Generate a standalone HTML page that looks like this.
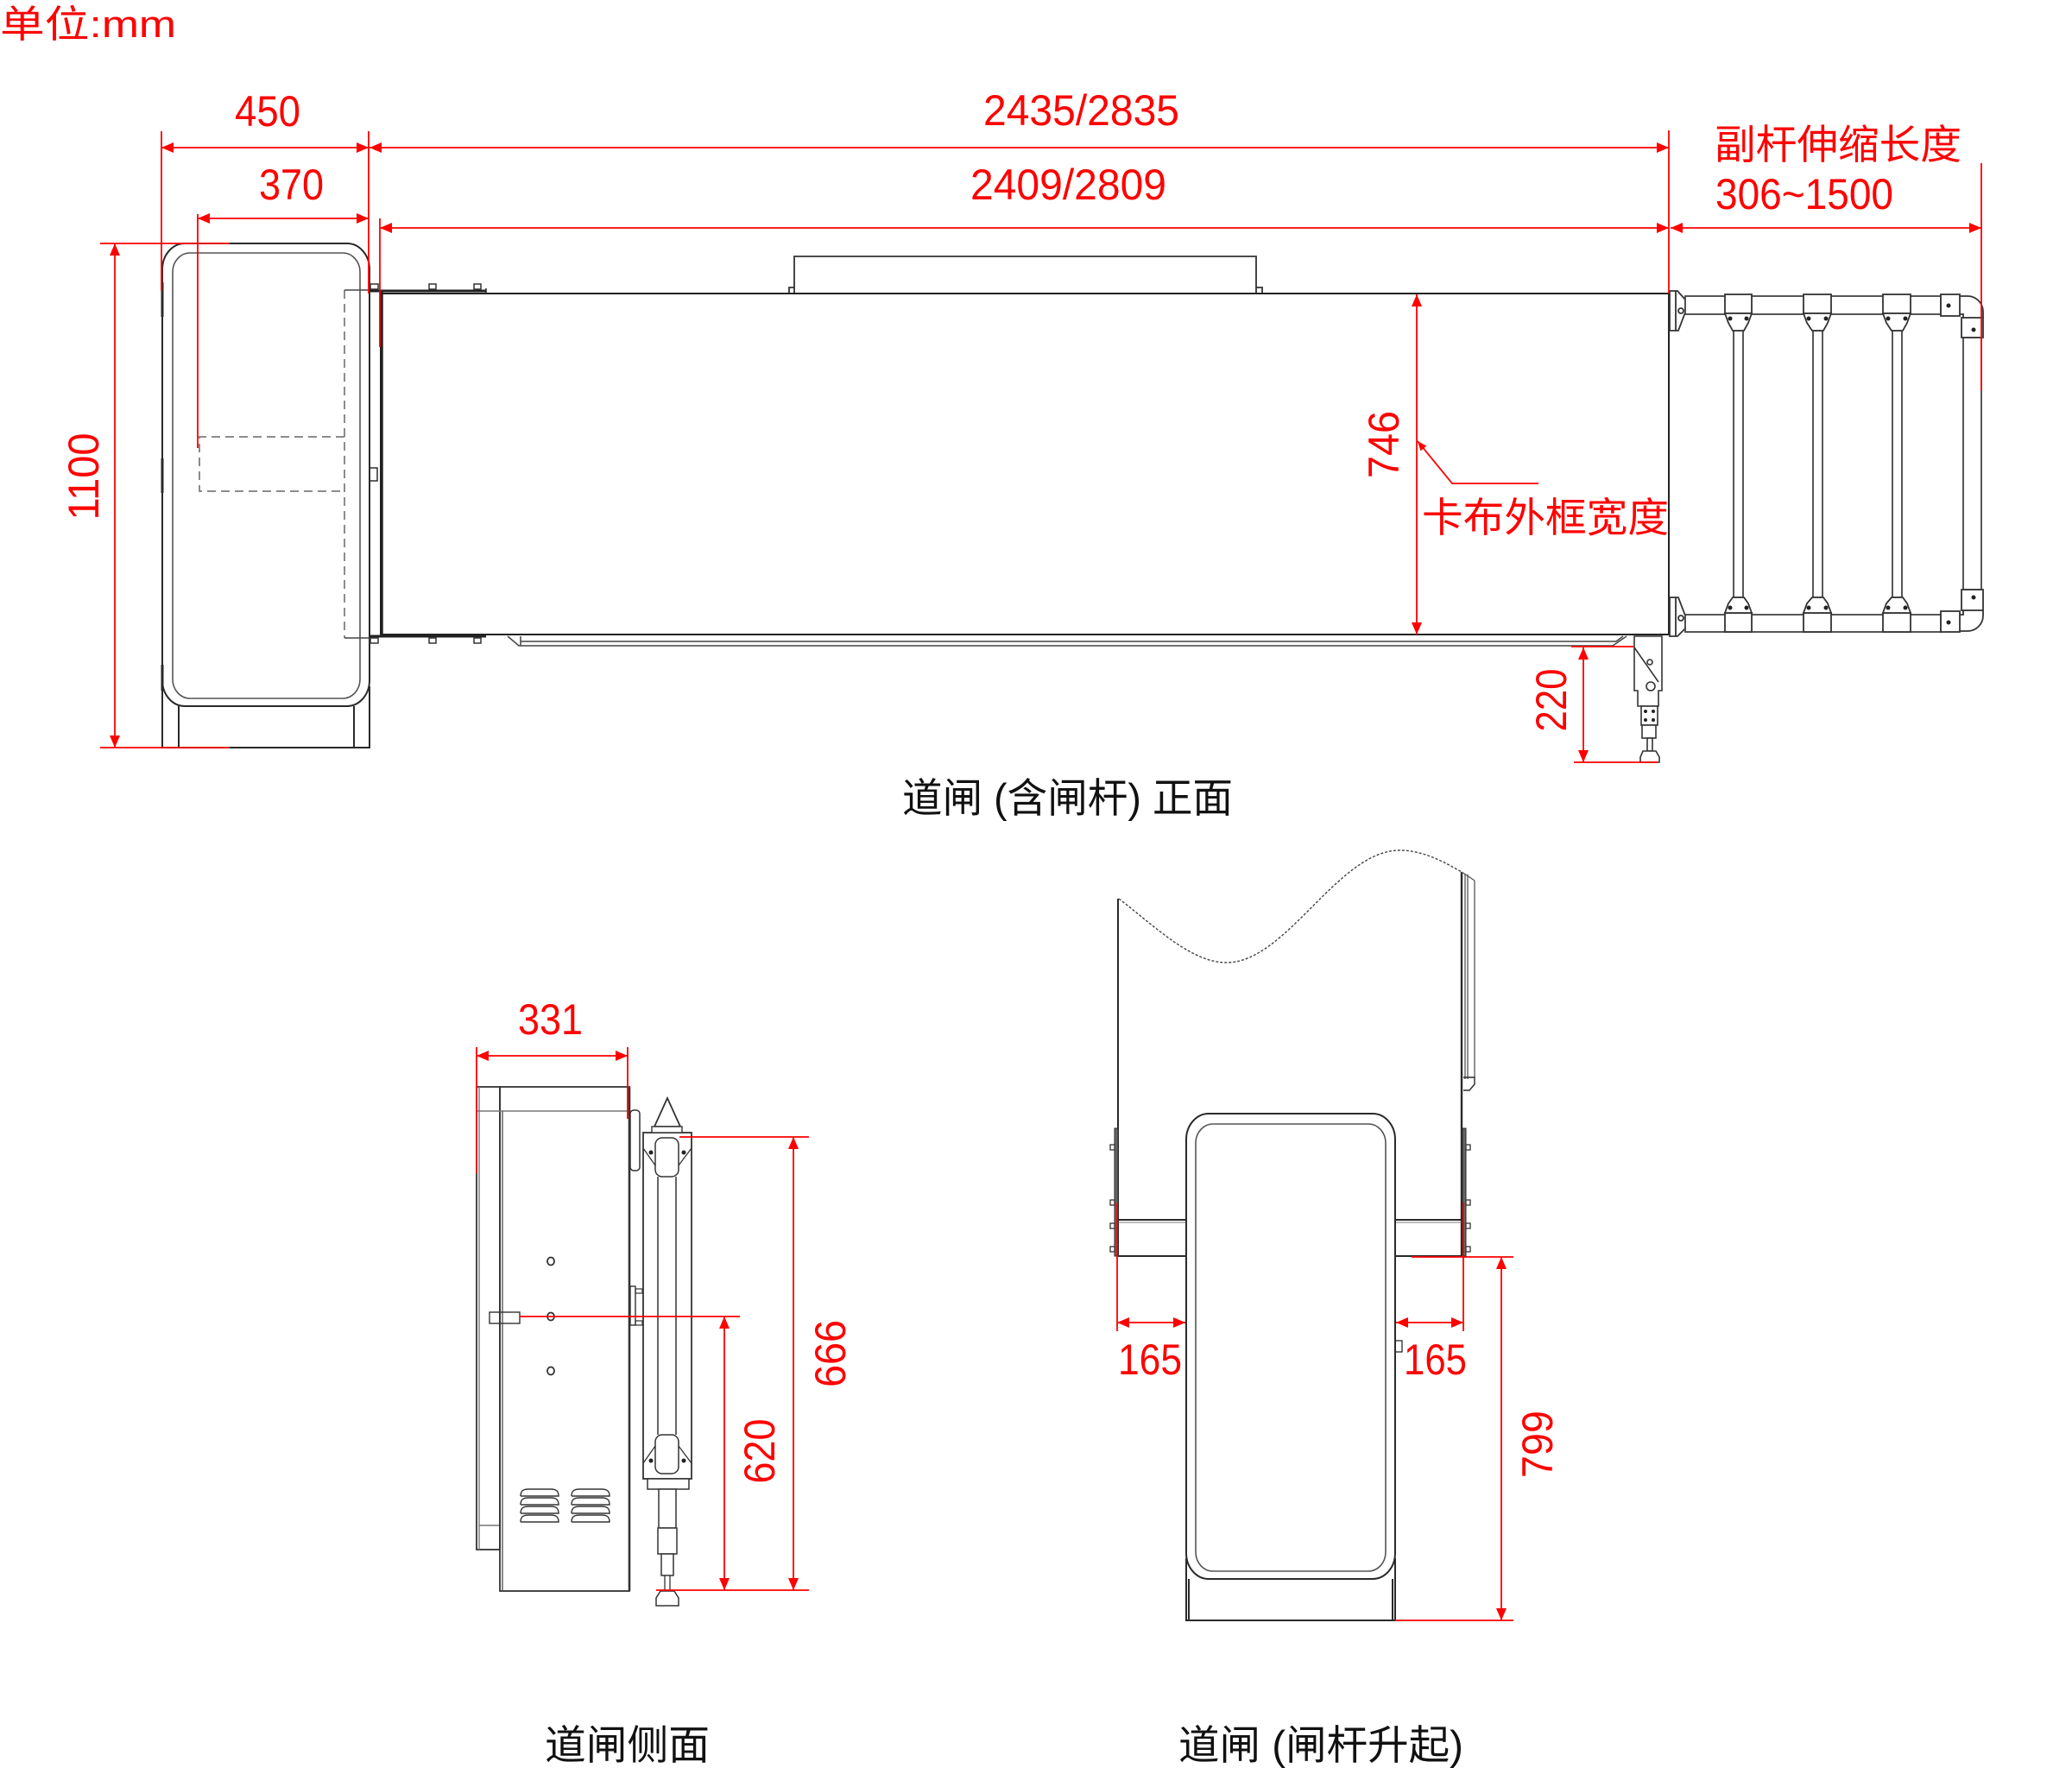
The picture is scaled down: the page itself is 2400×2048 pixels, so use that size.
<!DOCTYPE html>
<html><head><meta charset="utf-8">
<style>
html,body{margin:0;padding:0;background:#fff;}
svg{display:block;}
text{font-family:"Liberation Sans","Noto Sans CJK SC",sans-serif;}
</style></head><body>
<svg width="2400" height="2048" viewBox="0 0 2400 2048" xmlns="http://www.w3.org/2000/svg">
<defs>
<marker id="ar" markerWidth="14" markerHeight="12" refX="14" refY="6" orient="auto-start-reverse" markerUnits="userSpaceOnUse"><path d="M0,0 L14,6 L0,12 z" fill="#f00"/></marker>
<marker id="ar2" markerWidth="11" markerHeight="9" refX="11" refY="4.5" orient="auto-start-reverse" markerUnits="userSpaceOnUse"><path d="M0,0 L11,4.5 L0,9 z" fill="#f00"/></marker>
</defs>
<rect width="2400" height="2048" fill="#fff"/>

<!-- ============ TOP FRONT VIEW ============ -->
<g fill="none" stroke="#2a2a2a" stroke-width="2">
  <!-- left cabinet -->
  <rect x="188" y="282" width="240" height="536" rx="26" ry="30"/>
  <rect x="200" y="293" width="217" height="516" rx="20" ry="22" stroke="#555" stroke-width="1.6"/>
  <path d="M188,795 V866 H428 V795 M207,818 V866 M410,818 V866"/>
  <path d="M188,327 V367 M188,531 V571 M188,770 V800" stroke-width="3"/>
  <rect x="428" y="542" width="9" height="15" stroke-width="1.5"/>
</g>
<g fill="none" stroke="#666" stroke-width="1.5" stroke-dasharray="10 6">
  <path d="M399,336 V739"/>
  <path d="M399,506 H231 V569 H399"/>
</g>
<g fill="none" stroke="#444" stroke-width="1.5">
  <path d="M399,336 H428 M399,739 H428"/>
</g>

<!-- beam -->
<g fill="none" stroke="#222" stroke-width="2">
  <rect x="441" y="340" width="1492" height="395"/>
  <path d="M442,337 V738" stroke-width="3.5"/>
  <path d="M427,337 H563 M427,737 H563" stroke-width="3"/>
  <path d="M427,337 V340 M563,334 V340" stroke-width="1.5"/>
</g>
<g fill="#fff" stroke="#333" stroke-width="1.5">
  <rect x="429" y="329" width="9" height="6"/><rect x="497" y="329" width="8" height="6"/><rect x="549" y="329" width="8" height="6"/>
  <rect x="429" y="739" width="9" height="6"/><rect x="497" y="739" width="8" height="6"/><rect x="549" y="739" width="8" height="6"/>
</g>
<!-- top box -->
<g fill="none" stroke="#333" stroke-width="1.8">
  <path d="M920,339 V297 H1455 V339"/>
  <path d="M914,339 V333 H920 M1455,333 H1462 V339"/>
</g>
<!-- bottom rail -->
<g fill="none" stroke="#444" stroke-width="1.5">
  <path d="M588,737 L601,748 H1868 M603,743 H1872 M603,737 V748"/>
  <path d="M1868,748 L1884,737 M1872,743 L1880,737"/>
</g>
<!-- end caps -->
<g fill="#fff" stroke="#333" stroke-width="1.8">
  <polygon points="1934,337 1943,337 1952,347 1952,362 1944,383 1934,383"/>
  <polygon points="1934,692 1944,692 1952,713 1952,728 1943,737 1934,737"/>
  <path d="M1941,337 V383 M1941,692 V737" fill="none"/>
  <circle cx="1947" cy="360" r="3"/><circle cx="1947" cy="716" r="3"/>
</g>
<!-- tubes -->
<g fill="#fff" stroke="#444" stroke-width="1.8">
  <rect x="1952" y="343" width="296" height="21"/>
  <rect x="1952" y="712" width="296" height="20"/>
  <rect x="2008" y="383" width="11" height="309"/>
  <rect x="2100" y="383" width="11" height="309"/>
  <rect x="2192" y="383" width="11" height="309"/>
  <rect x="2274" y="391" width="21" height="292"/>
</g>
<g fill="#fff" stroke="#333" stroke-width="1.8">
  <!-- top clamps -->
  <rect x="1998" y="341" width="31" height="22"/>
  <polygon points="1998,363 2029,363 2025,374 2020,383 2007,383 2002,374"/>
  <rect x="2089" y="341" width="32" height="22"/>
  <polygon points="2089,363 2121,363 2117,374 2112,383 2099,383 2093,374"/>
  <rect x="2181" y="341" width="32" height="22"/>
  <polygon points="2181,363 2213,363 2209,374 2204,383 2191,383 2185,374"/>
  <!-- bottom clamps -->
  <rect x="1998" y="710" width="31" height="22"/>
  <polygon points="1998,710 2029,710 2025,699 2020,692 2007,692 2002,699"/>
  <rect x="2089" y="710" width="32" height="22"/>
  <polygon points="2089,710 2121,710 2117,699 2112,692 2099,692 2093,699"/>
  <rect x="2181" y="710" width="32" height="22"/>
  <polygon points="2181,710 2213,710 2209,699 2204,692 2191,692 2185,699"/>
  <!-- elbows -->
  <path d="M2270,343 H2279 A18,18 0 0 1 2297,361 V368 M2270,364 H2274 V368" fill="none"/>
  <rect x="2248" y="341" width="22" height="25"/>
  <rect x="2272" y="368" width="25" height="23"/>
  <rect x="2272" y="683" width="25" height="24"/>
  <rect x="2248" y="708" width="22" height="24"/>
  <path d="M2297,707 V713 A18,18 0 0 1 2279,731 H2270 M2274,707 V712 H2270" fill="none"/>
</g>
<g fill="#222">
  <circle cx="2004" cy="369" r="2.5"/><circle cx="2023" cy="369" r="2.5"/>
  <circle cx="2095" cy="369" r="2.5"/><circle cx="2115" cy="369" r="2.5"/>
  <circle cx="2187" cy="369" r="2.5"/><circle cx="2207" cy="369" r="2.5"/>
  <circle cx="2004" cy="704" r="2.5"/><circle cx="2023" cy="704" r="2.5"/>
  <circle cx="2095" cy="704" r="2.5"/><circle cx="2115" cy="704" r="2.5"/>
  <circle cx="2187" cy="704" r="2.5"/><circle cx="2207" cy="704" r="2.5"/>
  <circle cx="2257" cy="354" r="2.5"/><circle cx="2286" cy="382" r="2.5"/>
  <circle cx="2286" cy="692" r="2.5"/><circle cx="2257" cy="721" r="2.5"/>
</g>
<!-- support leg -->
<g fill="#fff" stroke="#333" stroke-width="1.6">
  <path d="M1893,737 H1925 V800 H1921 V818 H1897 V800 H1893 Z"/>
  <path d="M1893,750 L1921,790" fill="none"/>
  <rect x="1901" y="818" width="19" height="22"/>
  <rect x="1902" y="840" width="16" height="15"/>
  <rect x="1908" y="855" width="6" height="15"/>
  <polygon points="1903,870 1918,870 1922,877 1922,883 1900,883 1900,877"/>
  <circle cx="1911" cy="767" r="3"/>
  <circle cx="1912" cy="795" r="5"/>
</g>
<g fill="#222"><circle cx="1906" cy="824" r="2"/><circle cx="1915" cy="824" r="2"/><circle cx="1906" cy="834" r="2"/><circle cx="1915" cy="834" r="2"/></g>

<!-- ============ RED DIMENSIONS (TOP) ============ -->
<g stroke="#f00" stroke-width="1.8" fill="none">
  <path d="M187,152 V337 M427,152 V340 M229,248 V519 M440,253 V402 M1933,151 V340 M2295,189 V452"/>
  <path d="M116,282 H266 M116,866 H266"/>
  <line x1="187" y1="171" x2="427" y2="171" marker-start="url(#ar)" marker-end="url(#ar)"/>
  <line x1="428" y1="171" x2="1933" y2="171" marker-start="url(#ar)" marker-end="url(#ar)"/>
  <line x1="229" y1="253" x2="427" y2="253" marker-start="url(#ar)" marker-end="url(#ar)"/>
  <line x1="440" y1="264" x2="1933" y2="264" marker-start="url(#ar)" marker-end="url(#ar)"/>
  <line x1="1935" y1="264" x2="2295" y2="264" marker-start="url(#ar)" marker-end="url(#ar)"/>
  <line x1="133" y1="282" x2="133" y2="866" marker-start="url(#ar)" marker-end="url(#ar)"/>
  <line x1="1641" y1="341" x2="1641" y2="735" marker-start="url(#ar)" marker-end="url(#ar)"/>
  <path d="M1642,511 L1682,560 H1782" marker-start="url(#ar2)"/>
  <path d="M1820,749 H1892 M1823,883 H1920"/>
  <line x1="1834" y1="750" x2="1834" y2="883" marker-start="url(#ar)" marker-end="url(#ar)"/>
</g>
<g fill="#f00" font-size="50">
  <text x="0" y="43" font-size="44" textLength="204" lengthAdjust="spacingAndGlyphs">单位:mm</text>
  <text x="272" y="146" textLength="76" lengthAdjust="spacingAndGlyphs">450</text>
  <text x="300" y="231" textLength="75" lengthAdjust="spacingAndGlyphs">370</text>
  <text x="1139" y="145" textLength="227" lengthAdjust="spacingAndGlyphs">2435/2835</text>
  <text x="1124" y="231" textLength="227" lengthAdjust="spacingAndGlyphs">2409/2809</text>
  <text x="1986" y="184" font-size="47" textLength="286" lengthAdjust="spacingAndGlyphs">副杆伸缩长度</text>
  <text x="1987" y="242" textLength="206" lengthAdjust="spacingAndGlyphs">306~1500</text>
  <text x="1647" y="616" font-size="47" textLength="286" lengthAdjust="spacingAndGlyphs">卡布外框宽度</text>
  <text transform="translate(114,552) rotate(-90)" text-anchor="middle" textLength="101" lengthAdjust="spacingAndGlyphs">1100</text>
  <text transform="translate(1620,515) rotate(-90)" text-anchor="middle" textLength="78" lengthAdjust="spacingAndGlyphs">746</text>
  <text transform="translate(1814,811) rotate(-90)" text-anchor="middle" textLength="73" lengthAdjust="spacingAndGlyphs">220</text>
</g>
<text x="1045" y="941" font-size="47" fill="#111" textLength="383" lengthAdjust="spacingAndGlyphs">道闸 (含闸杆) 正面</text>

<!-- ============ SIDE VIEW ============ -->
<g fill="none" stroke="#333" stroke-width="1.8">
  <rect x="552" y="1259" width="27" height="536"/>
  <path d="M555,1259 V1795 M555,1767 H579" stroke="#777" stroke-width="1.4"/>
  <rect x="579" y="1259" width="150" height="584"/>
  <path d="M582,1287 V1843" stroke="#555" stroke-width="1.4"/>
  <path d="M552,1287 H727" stroke="#777" stroke-width="1.4"/>
  <path d="M729,1259 V1843" stroke-width="2.6"/>
  <ellipse cx="638" cy="1461" rx="4" ry="4.5"/>
  <ellipse cx="638" cy="1525" rx="4" ry="4.5"/>
  <ellipse cx="638" cy="1588" rx="4" ry="4.5"/>
  <rect x="567" y="1520" width="35" height="13" stroke-width="1.4"/>
  <!-- vents -->
  <path d="M603,1733 C603,1727 606,1725 612,1725 H638 C644,1725 647,1727 647,1733 H603 M603,1743 C603,1737 606,1735 612,1735 H638 C644,1735 647,1737 647,1743 H603 M603,1753 C603,1747 606,1745 612,1745 H638 C644,1745 647,1747 647,1753 H603 M603,1763 C603,1757 606,1755 612,1755 H638 C644,1755 647,1757 647,1763 H603" stroke-width="1.4"/>
  <path d="M662,1733 C662,1727 665,1725 671,1725 H697 C703,1725 706,1727 706,1733 H662 M662,1743 C662,1737 665,1735 671,1735 H697 C703,1735 706,1737 706,1743 H662 M662,1753 C662,1747 665,1745 671,1745 H697 C703,1745 706,1747 706,1753 H662 M662,1763 C662,1757 665,1755 671,1755 H697 C703,1755 706,1757 706,1763 H662" stroke-width="1.4"/>
  <!-- right brackets -->
  <rect x="730" y="1286" width="11" height="70" rx="4" stroke-width="1.5"/>
  <rect x="730" y="1490" width="6" height="45" stroke-width="1.4"/>
  <rect x="736" y="1493" width="8" height="5" stroke-width="1.2"/>
  <rect x="736" y="1530" width="8" height="5" stroke-width="1.2"/>
  <!-- arm column -->
  <rect x="745" y="1312" width="56" height="401"/>
  <path d="M762,1363 V1662 M783,1363 V1662" stroke-width="1.5"/>
  <rect x="759" y="1318" width="27" height="45" rx="8" stroke-width="1.5"/>
  <rect x="759" y="1662" width="27" height="45" rx="8" stroke-width="1.5"/>
  <path d="M745,1330 L759,1350 M801,1330 L786,1350 M745,1695 L759,1675 M801,1695 L786,1675" stroke-width="1.3"/>
  <polygon points="773,1272 758,1305 788,1305" fill="#fff"/>
  <rect x="755" y="1305" width="35" height="7" fill="#fff" stroke-width="1.4"/>
  <rect x="750" y="1713" width="48" height="12" fill="#fff" stroke-width="1.5"/>
  <rect x="763" y="1725" width="20" height="45" fill="#fff" stroke-width="1.5"/>
  <rect x="762" y="1770" width="22" height="30" fill="#fff" stroke-width="1.5"/>
  <rect x="766" y="1800" width="14" height="25" fill="#fff" stroke-width="1.5"/>
  <rect x="770" y="1825" width="6" height="18" fill="#fff" stroke-width="1.3"/>
  <polygon points="765,1843 781,1843 786,1851 786,1860 760,1860 760,1851" fill="#fff" stroke-width="1.5"/>
</g>
<g fill="#222"><circle cx="754" cy="1335" r="2.5"/><circle cx="792" cy="1335" r="2.5"/><circle cx="754" cy="1692" r="2.5"/><circle cx="792" cy="1692" r="2.5"/></g>
<g stroke="#f00" stroke-width="1.8" fill="none">
  <path d="M552,1213 V1359 M727,1213 V1296"/>
  <line x1="552" y1="1223" x2="727" y2="1223" marker-start="url(#ar)" marker-end="url(#ar)"/>
  <path d="M602,1525 H857 M787,1317 H937 M760,1842 H937"/>
  <line x1="839" y1="1525" x2="839" y2="1842" marker-start="url(#ar)" marker-end="url(#ar)"/>
  <line x1="919" y1="1317" x2="919" y2="1842" marker-start="url(#ar)" marker-end="url(#ar)"/>
</g>
<g fill="#f00" font-size="50">
  <text x="600" y="1198" textLength="75" lengthAdjust="spacingAndGlyphs">331</text>
  <text transform="translate(897,1681) rotate(-90)" text-anchor="middle" textLength="75" lengthAdjust="spacingAndGlyphs">620</text>
  <text transform="translate(979,1568) rotate(-90)" text-anchor="middle" textLength="78" lengthAdjust="spacingAndGlyphs">666</text>
</g>
<text x="631" y="2038" font-size="47" fill="#111" textLength="191" lengthAdjust="spacingAndGlyphs">道闸侧面</text>

<!-- ============ RAISED VIEW ============ -->
<path d="M1296,1041 C1340,1075 1380,1115 1421,1115 C1490,1115 1550,985 1621,985 C1650,985 1675,1000 1693,1010" fill="none" stroke="#444" stroke-width="1.4" stroke-dasharray="3 2"/>
<g fill="none" stroke="#2a2a2a" stroke-width="2">
  <path d="M1295,1041 V1455"/>
  <path d="M1693,1010 V1455" stroke-width="2.4"/>
  <path d="M1697,1012 V1250 M1700,1013 V1250 M1708,1020 V1248 M1693,1010 L1708,1020" stroke="#555" stroke-width="1.3"/>
  <path d="M1695,1248 H1708 V1256 L1702,1263 H1695" stroke-width="1.4"/>
  <path d="M1295,1413 H1374 M1295,1455 H1374 M1616,1413 H1693 M1616,1455 H1693"/>
  <path d="M1295,1416 H1374 M1616,1416 H1693" stroke="#777" stroke-width="1"/>
  <rect x="1291" y="1307" width="4" height="148" fill="#666" stroke-width="1"/>
  <rect x="1694" y="1307" width="4" height="148" fill="#666" stroke-width="1"/>
  <rect x="1374" y="1290" width="242" height="539" rx="26" ry="30"/>
  <rect x="1385" y="1302" width="220" height="518" rx="20" ry="22" stroke="#555" stroke-width="1.6"/>
  <path d="M1374,1805 V1877 H1616 V1805 M1377,1829 V1877 M1613,1829 V1877"/>
  <rect x="1616" y="1553" width="8" height="13" stroke-width="1.3"/>
</g>
<g fill="#fff" stroke="#333" stroke-width="1.3">
  <rect x="1286" y="1326" width="5" height="6"/><rect x="1286" y="1390" width="5" height="6"/><rect x="1286" y="1417" width="5" height="6"/><rect x="1286" y="1444" width="5" height="6"/>
  <rect x="1698" y="1326" width="5" height="6"/><rect x="1698" y="1390" width="5" height="6"/><rect x="1698" y="1417" width="5" height="6"/><rect x="1698" y="1444" width="5" height="6"/>
</g>
<g stroke="#f00" stroke-width="1.8" fill="none">
  <path d="M1294,1393 V1542 M1695,1393 V1542"/>
  <line x1="1294" y1="1532" x2="1373" y2="1532" marker-start="url(#ar)" marker-end="url(#ar)"/>
  <line x1="1617" y1="1532" x2="1695" y2="1532" marker-start="url(#ar)" marker-end="url(#ar)"/>
  <path d="M1635,1456 H1753 M1616,1877 H1753"/>
  <line x1="1739" y1="1456" x2="1739" y2="1877" marker-start="url(#ar)" marker-end="url(#ar)"/>
</g>
<g fill="#f00" font-size="50">
  <text x="1295" y="1592" textLength="74" lengthAdjust="spacingAndGlyphs">165</text>
  <text x="1626" y="1592" textLength="73" lengthAdjust="spacingAndGlyphs">165</text>
  <text transform="translate(1798,1673) rotate(-90)" text-anchor="middle" textLength="78" lengthAdjust="spacingAndGlyphs">799</text>
</g>
<text x="1365" y="2038" font-size="47" fill="#111" textLength="330" lengthAdjust="spacingAndGlyphs">道闸 (闸杆升起)</text>
</svg>
</body></html>
